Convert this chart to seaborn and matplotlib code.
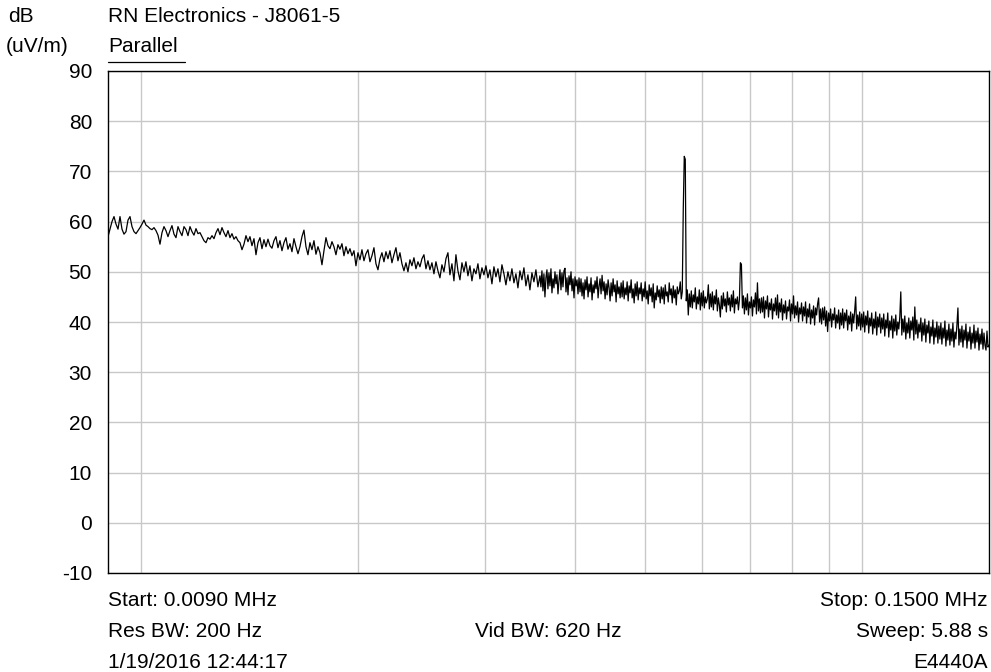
import numpy as np
import pandas as pd
import matplotlib
matplotlib.use("Agg")
import matplotlib.pyplot as plt
from matplotlib.lines import Line2D
import seaborn as sns

# ---------------- data ----------------
start_mhz = 0.0090
split_mhz = 0.03575   # where the trace reading switches to a finer step
stop_mhz = 0.1500

# trace level in dB(uV/m), 0.0090 -> 0.03575 MHz (evenly spaced in log frequency)
level_db_low = [
    57.0, 58.5, 60.0, 61.0, 59.5, 58.5, 61.0, 58.5, 57.5, 58.0, 60.3, 61.0, 59.0, 58.0, 57.6, 58.2, 58.8, 59.5, 60.3, 59.3,
    59.0, 58.6, 58.4, 58.8, 58.2, 57.3, 55.5, 57.8, 59.0, 58.2, 57.0, 58.2, 59.2, 57.5, 56.8, 59.0, 58.0, 57.2, 59.0, 58.4,
    57.2, 59.0, 58.0, 57.3, 58.6, 57.6, 57.8, 57.0, 56.2, 55.8, 56.8, 56.5, 57.2, 56.6, 57.8, 58.6, 57.4, 58.8, 57.8, 57.0,
    58.2, 56.8, 57.6, 56.5, 57.0, 56.2, 55.8, 54.4, 55.5, 57.2, 56.0, 57.0, 55.2, 56.6, 53.4, 55.8, 56.8, 54.6, 56.4, 55.0,
    56.5, 55.2, 54.7, 56.2, 57.0, 54.8, 56.2, 54.2, 55.8, 56.8, 54.5, 55.6, 54.0, 56.6, 55.0, 53.6, 55.0, 57.0, 58.3, 55.0,
    53.4, 55.8, 54.4, 56.2, 53.5, 55.0, 53.8, 51.4, 54.2, 56.8, 55.2, 54.6, 56.0, 55.0, 53.4, 55.4, 54.5, 55.6, 53.2, 55.0,
    53.6, 54.6, 53.2, 54.2, 51.2, 53.8, 52.4, 54.4, 52.2, 53.6, 54.4, 52.0, 53.2, 54.8, 51.6, 50.4, 52.6, 53.8, 52.0, 54.0,
    52.6, 54.2, 51.8, 53.4, 54.8, 52.2, 53.8, 51.6, 50.2, 51.8, 50.0, 52.4, 51.2, 52.8, 50.6, 52.0, 51.0, 52.6, 53.4, 50.6,
    52.2, 50.4, 51.8, 49.6, 52.0, 50.2, 48.8, 51.4, 50.0, 52.6, 53.8, 49.4, 51.6, 48.2, 53.4, 50.2, 48.4, 51.8, 50.0, 52.0,
    49.2, 51.2, 48.2, 50.6, 49.6, 51.6, 48.6, 50.8, 49.4, 51.2, 48.8, 50.4, 47.6, 51.0, 49.0, 50.6, 48.0, 51.4, 49.6, 47.4,
    50.0, 48.2, 50.6, 47.8, 49.6, 46.8, 50.2, 48.4, 50.8, 47.2, 49.4, 46.4, 49.8, 48.0, 50.4, 47.0, 49.2,
]

# trace level in dB(uV/m), 0.03575 -> 0.1500 MHz (finer step, dense noise + carriers)
level_db_high = [
    47.0, 50.2, 46.2, 49.6, 45.0, 48.8, 50.4, 46.6, 49.8, 47.2, 50.6, 45.8, 48.6, 46.8, 50.0, 47.6, 49.4, 45.6, 48.2, 50.4,
    46.4, 49.8, 47.0, 50.2, 50.7, 46.0, 48.8, 45.4, 49.2, 47.4, 50.0, 46.2, 48.6, 44.8, 49.0, 47.2, 48.4, 45.6, 48.8, 46.0,
    48.6, 45.2, 47.8, 44.6, 48.4, 46.4, 49.0, 45.0, 47.6, 46.0, 48.8, 44.4, 47.4, 45.8, 48.2, 46.6, 49.0, 44.8, 47.2, 48.6,
    45.6, 49.3, 46.2, 48.0, 44.6, 47.6, 45.4, 48.4, 46.8, 44.2, 47.8, 45.2, 48.6, 46.0, 47.4, 44.0, 48.2, 45.6, 47.0, 44.8,
    47.8, 45.0, 48.2, 44.6, 46.8, 45.4, 48.0, 44.2, 47.2, 45.8, 48.4, 44.8, 46.6, 43.8, 47.6, 45.2, 48.0, 44.4, 46.8, 45.6,
    47.8, 44.2, 46.6, 45.0, 48.0, 44.6, 46.2, 43.6, 47.4, 45.2, 46.8, 44.0, 47.6, 42.8, 45.8, 44.4, 47.2, 45.0, 46.4, 43.8,
    47.0, 44.6, 46.8, 43.6, 47.4, 45.2, 46.0, 44.0, 47.8, 45.4, 46.6, 43.8, 47.2, 44.8, 46.4, 43.4, 47.0, 45.6, 46.2, 48.0,
    44.6, 46.0, 62.5, 73.0, 72.4, 44.2, 46.4, 41.4, 45.6, 43.0, 46.2, 42.8, 45.4, 44.0, 46.8, 42.6, 45.0, 43.6, 46.4, 42.4,
    45.8, 43.2, 46.2, 42.8, 45.0, 43.8, 44.6, 47.4, 42.6, 45.6, 43.0, 46.0, 42.4, 45.2, 43.6, 46.4, 42.2, 44.8, 43.4, 41.0,
    45.2, 42.6, 45.8, 43.2, 44.6, 42.0, 46.0, 43.4, 44.8, 42.2, 45.4, 43.0, 46.2, 41.8, 44.6, 43.6, 45.0, 42.4, 44.4, 51.8,
    51.5, 42.8, 45.2, 41.6, 44.8, 42.4, 45.6, 41.4, 44.0, 42.8, 45.0, 41.2, 44.4, 43.0, 45.8, 41.6, 47.8, 42.2, 44.6, 41.8,
    44.8, 42.0, 45.0, 40.8, 44.2, 42.6, 45.2, 41.0, 43.8, 42.4, 44.6, 40.6, 43.6, 42.2, 44.8, 41.4, 45.4, 40.8, 43.8, 42.0,
    44.6, 40.4, 43.4, 41.8, 44.2, 40.6, 43.0, 42.2, 44.4, 40.2, 43.6, 41.6, 45.2, 40.8, 43.2, 41.4, 44.0, 40.0, 42.8, 41.6,
    43.8, 40.2, 43.0, 41.2, 44.0, 39.8, 42.6, 41.0, 43.6, 39.6, 42.4, 40.8, 43.2, 39.4, 42.8, 41.4, 43.6, 44.8, 40.0, 42.6,
    39.6, 42.8, 40.4, 43.0, 39.2, 42.2, 38.1, 41.8, 40.2, 42.6, 39.0, 41.6, 40.4, 42.8, 38.8, 41.4, 39.8, 42.4, 38.6, 41.8,
    39.4, 42.6, 38.8, 41.8, 40.2, 42.4, 38.4, 41.2, 39.6, 42.0, 38.2, 41.6, 39.8, 42.2, 45.0, 38.6, 41.4, 39.2, 42.0, 38.4,
    41.6, 39.0, 42.0, 38.0, 41.2, 39.4, 42.2, 37.8, 40.8, 39.2, 41.8, 37.6, 40.6, 38.8, 42.0, 37.4, 41.0, 39.0, 41.6, 37.8,
    40.8, 38.6, 41.6, 37.2, 40.4, 38.8, 41.8, 37.0, 40.2, 38.4, 41.2, 36.8, 40.6, 38.2, 41.4, 37.4, 40.0, 38.6, 41.0, 46.0,
    37.4, 40.6, 38.0, 41.2, 36.6, 39.8, 37.8, 40.8, 36.8, 40.2, 38.4, 41.0, 36.4, 43.0, 37.6, 40.4, 36.8, 39.6, 38.0, 40.8,
    36.2, 39.8, 37.4, 40.6, 36.0, 39.4, 37.8, 40.2, 35.8, 39.0, 37.2, 40.4, 35.6, 38.8, 37.0, 40.0, 35.8, 39.2, 36.6, 39.8,
    35.6, 38.8, 36.8, 40.2, 35.2, 38.4, 36.4, 39.6, 35.4, 38.6, 36.2, 39.8, 35.0, 38.0, 36.6, 39.4, 42.8, 35.4, 38.6, 36.0,
    39.2, 35.0, 38.4, 36.4, 39.6, 34.8, 38.0, 36.2, 39.0, 34.6, 37.8, 35.8, 39.4, 34.8, 38.2, 36.0, 38.8, 34.4, 37.6, 35.6,
    38.6, 34.6, 37.8, 35.4, 34.4, 38.2, 35.0, 35.4,
]

y_ticks = [90, 80, 70, 60, 50, 40, 30, 20, 10, 0, -10]
x_grid_mhz = [0.01, 0.02, 0.03, 0.04, 0.05, 0.06, 0.07, 0.08, 0.09, 0.10]

title_text = "RN Electronics - J8061-5"
subtitle_text = "Parallel"
unit_top = "dB"
unit_bottom = "(uV/m)"
left_notes = ["Start: 0.0090 MHz", "Res BW: 200 Hz", "1/19/2016 12:44:17"]
mid_note = "Vid BW: 620 Hz"
right_notes = ["Stop: 0.1500 MHz", "Sweep: 5.88 s", "E4440A"]

# ---------------- build table ----------------
f_low = np.geomspace(start_mhz, split_mhz, len(level_db_low))
f_high = np.geomspace(split_mhz, stop_mhz, len(level_db_high) + 1)[1:]
df = pd.DataFrame({
    "freq": np.concatenate([f_low, f_high]),
    "level": np.concatenate([level_db_low, level_db_high]),
})

# ---------------- plot ----------------
sns.set_theme(style="white")
plt.rcParams["font.family"] = ["Liberation Sans", "DejaVu Sans"]
plt.rcParams["text.color"] = "black"
fs = 15.0

fig = plt.figure(figsize=(9.91, 6.72), dpi=100)
ax = fig.add_axes([108 / 991, 99 / 672, 881 / 991, 502 / 672])

sns.lineplot(data=df, x="freq", y="level", ax=ax, color="black",
             linewidth=0.9, estimator=None, sort=False)

ax.set_xscale("log")
ax.set_xlim(start_mhz, stop_mhz)
ax.set_ylim(-10, 90)
ax.set_yticks(y_ticks)
ax.set_yticklabels([str(t) for t in y_ticks], fontsize=fs)
ax.set_xticks([])
ax.set_xticks([], minor=True)
ax.set_xlabel("")
ax.set_ylabel("")
ax.tick_params(axis="y", length=0, pad=11.5, colors="black")

grid_col = "#c8c8c8"
for v in x_grid_mhz:
    ax.axvline(v, color=grid_col, lw=1.0, zorder=0)
for t in y_ticks:
    ax.axhline(t, color=grid_col, lw=1.0, zorder=0)

for s in ax.spines.values():
    s.set_color("black")
    s.set_linewidth(1.0)
    s.set_visible(True)

def fy(py):
    return 1 - py / 672

def fx(px):
    return px / 991

fig.text(fx(8), fy(17), unit_top, fontsize=fs, va="center", ha="left")
fig.text(fx(6), fy(47), unit_bottom, fontsize=fs, va="center", ha="left")
fig.text(fx(108), fy(17), title_text, fontsize=fs, va="center", ha="left")
fig.text(fx(108), fy(47), subtitle_text, fontsize=fs, va="center", ha="left")
fig.add_artist(Line2D([fx(108), fx(185)], [fy(61.5), fy(61.5)],
                      transform=fig.transFigure, color="black", lw=0.9))

for i, (l, r) in enumerate(zip(left_notes, right_notes)):
    y = fy(600 + 31.5 * i)
    fig.text(fx(108), y, l, fontsize=fs, va="center", ha="left")
    fig.text(fx(988), y, r, fontsize=fs, va="center", ha="right")
fig.text(fx(548), fy(631.5), mid_note, fontsize=fs, va="center", ha="center")

fig.savefig("out.png", dpi=100, facecolor="white")
